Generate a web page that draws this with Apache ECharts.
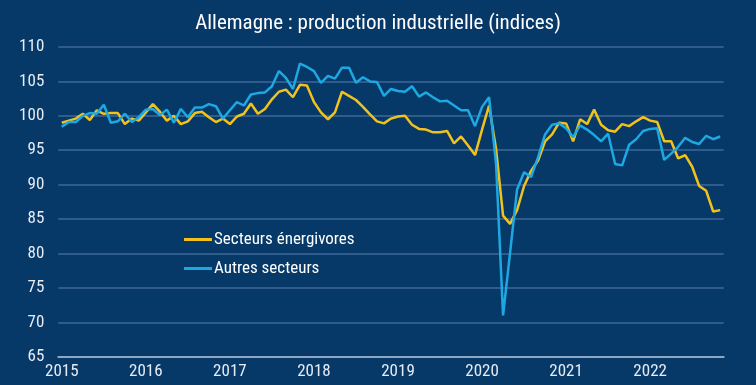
<!DOCTYPE html>
<html>
<head>
<meta charset="utf-8">
<script src="https://cdn.jsdelivr.net/npm/echarts@6/dist/echarts.min.js"></script>
<style>
html,body{margin:0;padding:0;background:#063868;}
#chart{width:756px;height:385px;}
</style>
</head>
<body>
<div id="chart"></div>
<script>
const titleText = 'Allemagne : production industrielle (indices)';
const startYear = 2015;
const yearLabels = ['2015','2016','2017','2018','2019','2020','2021','2022'];
const seriesNames = ['Secteurs énergivores', 'Autres secteurs'];

// Monthly values, Jan 2015 - Nov 2022
const energivores = [
  99.0, 99.3, 99.6, 100.3, 99.4, 100.8, 100.3, 100.4, 100.4, 98.8, 99.6, 99.3,
  100.5, 101.7, 100.6, 99.3, 100.0, 98.8, 99.2, 100.4, 100.6, 99.8, 99.1, 99.6,
  98.8, 99.9, 100.3, 101.8, 100.3, 101.0, 102.4, 103.5, 103.8, 102.7, 104.5, 104.4,
  102.0, 100.5, 99.5, 100.5, 103.5, 102.9, 102.3, 101.3, 100.2, 99.2, 98.9, 99.6,
  99.9, 100.0, 98.7, 98.1, 98.0, 97.6, 97.6, 97.8, 96.0, 97.0, 95.7, 94.3,
  98.0, 101.5, 95.2, 85.5, 84.3, 86.3, 89.8, 92.0, 93.5, 96.3, 97.3, 99.0,
  98.9, 96.3, 99.5, 98.8, 100.9, 98.7, 97.9, 97.7, 98.8, 98.5, 99.2, 99.8,
  99.3, 99.1, 96.3, 96.3, 93.8, 94.3, 92.6, 89.8, 89.1, 86.1, 86.3
];
const autres = [
  98.4, 99.1, 99.1, 100.0, 100.4, 100.3, 101.6, 99.0, 99.2, 100.3, 99.1, 99.8,
  100.9, 101.0, 100.1, 100.9, 99.0, 101.0, 99.8, 101.2, 101.2, 101.7, 101.4, 99.6,
  100.8, 102.0, 101.5, 103.1, 103.3, 103.4, 104.3, 106.5, 105.5, 103.9, 107.6, 107.1,
  106.5, 104.8, 105.8, 105.4, 107.0, 107.0, 104.8, 105.6, 105.0, 104.9, 102.9, 103.9,
  103.6, 103.5, 104.3, 102.8, 103.4, 102.7, 102.1, 102.2, 101.5, 100.8, 100.8, 98.5,
  101.3, 102.7, 93.0, 71.0, 80.1, 89.3, 91.8, 91.1, 94.0, 97.3, 98.7, 98.9,
  98.2, 96.9, 98.6, 98.0, 97.2, 96.3, 97.4, 93.0, 92.8, 95.8, 96.6, 97.8,
  98.1, 98.2, 93.6, 94.5, 95.5, 96.8, 96.2, 95.9, 97.1, 96.6, 97.0
];

const categories = [];
for (let i = 0; i < energivores.length; i++) {
  const y = startYear + Math.floor(i / 12);
  const m = (i % 12) + 1;
  categories.push(y + '-' + (m < 10 ? '0' + m : m));
}

const FONT = "'Liberation Sans Narrow', 'Roboto Condensed', Roboto, sans-serif";
const chart = echarts.init(document.getElementById('chart'), null, {renderer: 'canvas'});
chart.setOption({
  backgroundColor: '#063868',
  animation: false,
  title: {
    text: titleText,
    left: 'center',
    top: 8,
    textStyle: {color: '#ffffff', fontSize: 21, fontWeight: 'normal', fontFamily: FONT}
  },
  legend: {
    orient: 'vertical',
    left: 179,
    top: 226,
    itemGap: 12,
    itemWidth: 28,
    itemHeight: 3,
    icon: 'rect',
    data: seriesNames,
    textStyle: {color: '#ffffff', fontSize: 17, fontFamily: FONT, padding: [0,0,0,-3]}
  },
  grid: {left: 58.3, right: 32.3, top: 47, bottom: 28.3, containLabel: false},
  xAxis: {
    type: 'category',
    data: categories,
    boundaryGap: true,
    axisLine: {lineStyle: {color: '#8ea6c2', width: 2}},
    axisTick: {
      length: 5,
      lineStyle: {color: '#8ea6c2', width: 1.5},
      interval: function (idx) { return idx % 12 === 0; }
    },
    axisLabel: {
      color: '#e6ecf4',
      fontSize: 17,
      fontFamily: FONT,
      margin: 7,
      interval: function (idx) { return idx % 12 === 0; },
      formatter: function (v, idx) { return yearLabels[Math.floor(idx / 12)]; }
    },
    splitLine: {show: false}
  },
  yAxis: {
    type: 'value',
    min: 65,
    max: 110,
    interval: 5,
    axisLine: {show: false},
    axisTick: {show: false},
    axisLabel: {color: '#e6ecf4', fontSize: 17, fontFamily: FONT, margin: 14},
    splitLine: {lineStyle: {color: '#3e6898', width: 1.5}}
  },
  series: [
    {
      name: seriesNames[0],
      type: 'line',
      data: energivores,
      symbol: 'none',
      lineStyle: {color: '#f2c21c', width: 2.5},
      itemStyle: {color: '#f2c21c'},
      z: 2
    },
    {
      name: seriesNames[1],
      type: 'line',
      data: autres,
      symbol: 'none',
      lineStyle: {color: '#1ea8e2', width: 2.5},
      itemStyle: {color: '#1ea8e2'},
      z: 3
    }
  ]
});
</script>
</body>
</html>
